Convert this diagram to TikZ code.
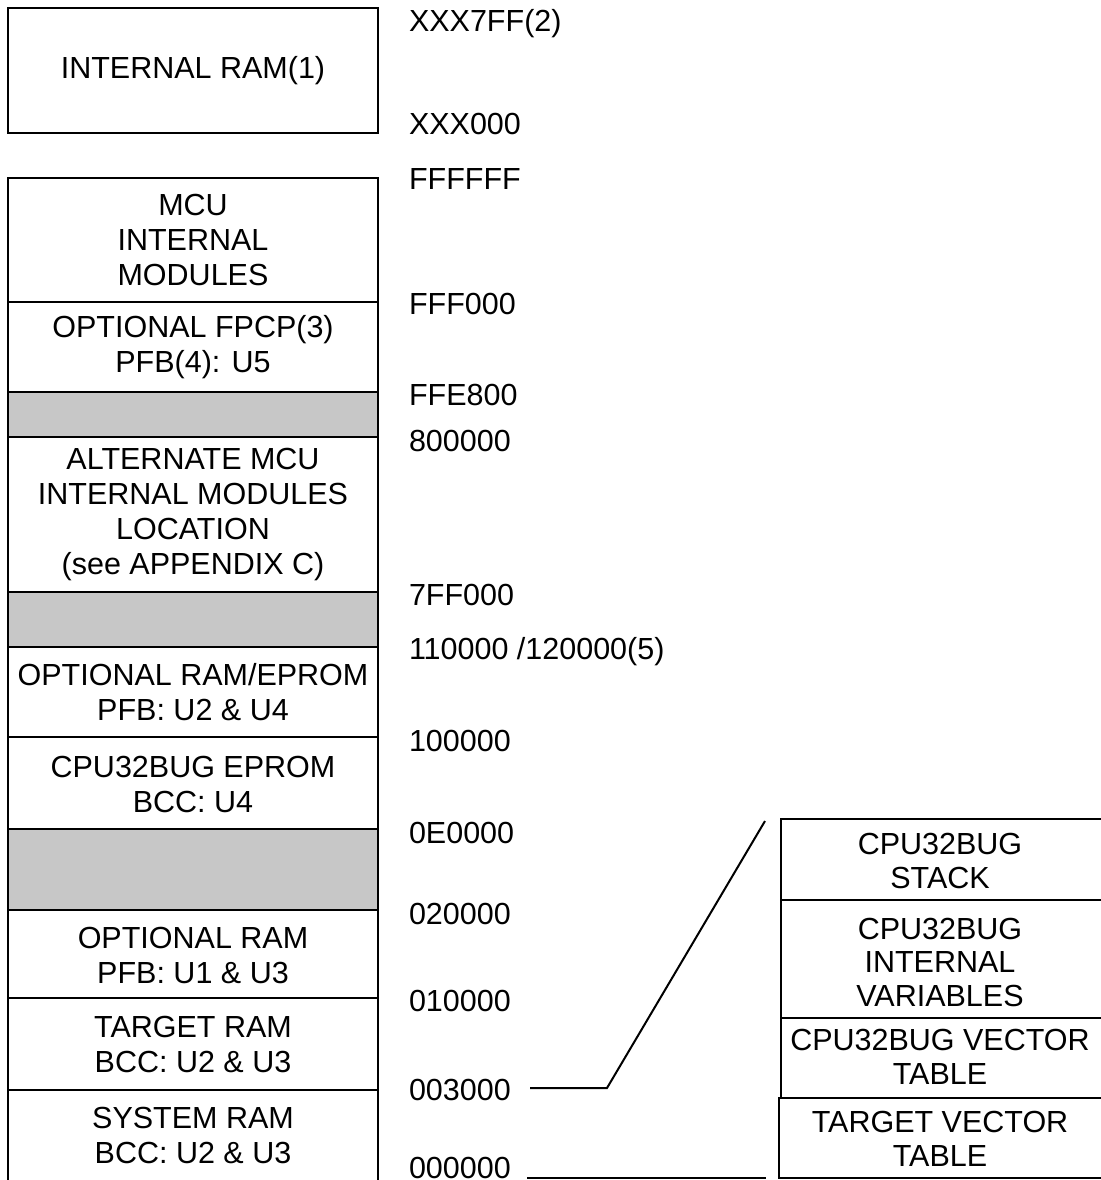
\documentclass[tikz,border=0pt]{standalone}
\usepackage{fontspec}
\setmainfont{Liberation Sans}
\begin{document}
\begin{tikzpicture}[x=1pt,y=-1pt,line width=2pt,
  lbl/.style={font=\fontsize{30.5}{35}\selectfont,align=center,inner sep=0pt},
  rlbl/.style={font=\fontsize{30.5}{33.5}\selectfont,align=center,inner sep=0pt},
  addr/.style={font=\fontsize{30.5}{35}\selectfont,anchor=base west,inner sep=0pt},
  hatchfill/.style={fill=black!22}]
\useasboundingbox (0,0) rectangle (1100,1180);
\fill[white] (0,0) rectangle (1100,1180);

% internal RAM box
\draw (8,8) rectangle (378,133);
\node[lbl] (iram) at (193,70.5) {INTERNAL RAM(1)};

% main memory stack
\fill[hatchfill] (8,392) rectangle (378,437);
\fill[hatchfill] (8,592) rectangle (378,647);
\fill[hatchfill] (8,829) rectangle (378,910);
\draw (8,1182) -- (8,178) -- (378,178) -- (378,1182);
\foreach \yy in {302,392,437,592,647,737,829,910,998,1090}
  \draw (8,\yy) -- (378,\yy);

\node[lbl] (mcu)  at (193,240)  {MCU\\INTERNAL\\MODULES};
\node[lbl] (fpcp) at (193,347)  {OPTIONAL FPCP(3)\\PFB(4): U5};
\node[lbl] (alt)  at (193,515)  {ALTERNATE MCU\\INTERNAL MODULES\\LOCATION\\(see APPENDIX C)};
\node[lbl] (oram) at (193,692)  {OPTIONAL RAM/EPROM\\PFB: U2 \& U4};
\node[lbl] (bug)  at (193,784)  {CPU32BUG EPROM\\BCC: U4};
\node[lbl] (opt)  at (193,955)  {OPTIONAL RAM\\PFB: U1 \& U3};
\node[lbl] (tram) at (193,1044) {TARGET RAM\\BCC: U2 \& U3};
\node[lbl] (sram) at (193,1135) {SYSTEM RAM\\BCC: U2 \& U3};

% addresses
\node[addr] (a1)  at (408,32)   {XXX7FF(2)};
\node[addr] (a2)  at (408,135)  {XXX000};
\node[addr] (a3)  at (408,189)  {FFFFFF};
\node[addr] (a4)  at (408,314)  {FFF000};
\node[addr] (a5)  at (408,405)  {FFE800};
\node[addr] (a6)  at (408,451)  {800000};
\node[addr] (a7)  at (408,605)  {7FF000};
\node[addr] (a8)  at (408,659)  {110000 /120000(5)};
\node[addr] (a9)  at (408,751)  {100000};
\node[addr] (a10) at (408,843)  {0E0000};
\node[addr] (a11) at (408,924)  {020000};
\node[addr] (a12) at (408,1011) {010000};
\node[addr] (a13) at (408,1100) {003000};
\node[addr] (a14) at (408,1178) {000000};

% expanded area boxes
\draw (1102,819) -- (781,819) -- (781,1098);
\draw (781,900) -- (1102,900);
\draw (781,1018) -- (1102,1018);
\draw (1102,1098) -- (779,1098) -- (779,1178) -- (1102,1178);

\node[rlbl] (stk) at (940,861)  {CPU32BUG\\STACK};
\node[rlbl] (var) at (940,962)  {CPU32BUG\\INTERNAL\\VARIABLES};
\node[rlbl] (vec) at (940,1057) {CPU32BUG VECTOR\\TABLE};
\node[rlbl] (tvt) at (940,1139) {TARGET VECTOR\\TABLE};

% connectors
\coordinate (c3s) at (530,1088);
\coordinate (c3k) at (607,1088);
\coordinate (c3e) at (765,821);
\draw (c3s) -- (c3k) -- (c3e);
\coordinate (c0s) at (527,1178);
\coordinate (c0e) at (766,1178);
\draw (c0s) -- (c0e);
\end{tikzpicture}
\end{document}
